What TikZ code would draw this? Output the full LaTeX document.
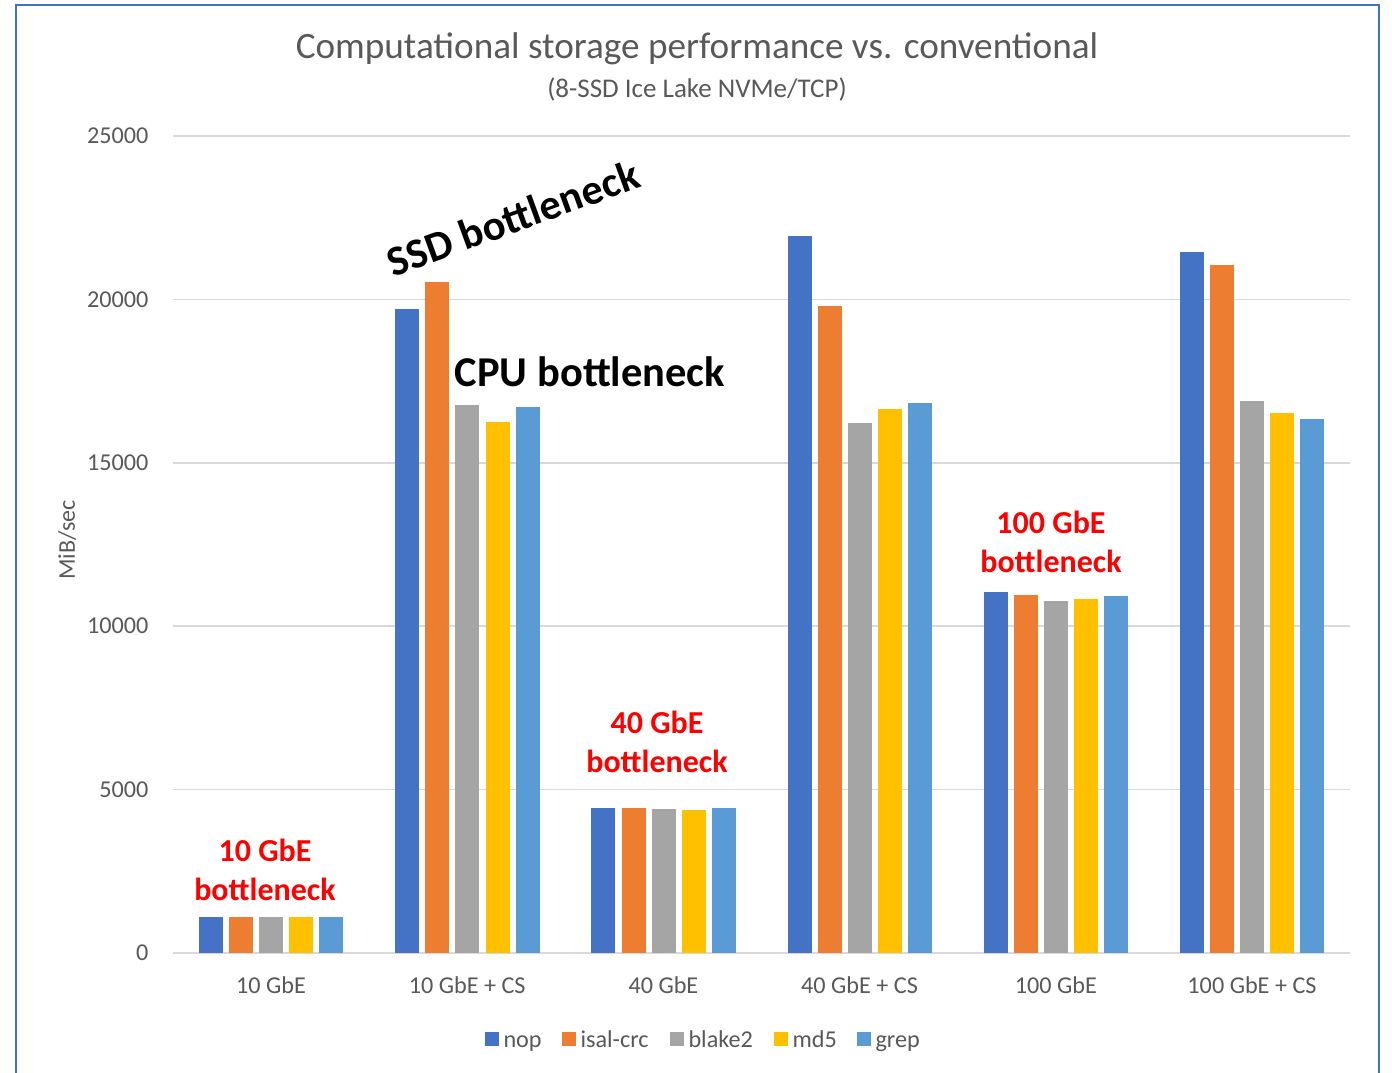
\documentclass[tikz,border=0pt]{standalone}
\usepackage{fontspec}
\setmainfont{Carlito}
\definecolor{cnop}{HTML}{4472C4}
\definecolor{cisal}{HTML}{ED7D31}
\definecolor{cblake}{HTML}{A5A5A5}
\definecolor{cmd}{HTML}{FFC000}
\definecolor{cgrep}{HTML}{5B9BD5}
\definecolor{grid}{HTML}{D9D9D9}
\definecolor{txt}{HTML}{595959}
\definecolor{frame}{HTML}{4472C4}
\begin{document}
\begin{tikzpicture}[x=1pt,y=-1pt,
  axis/.style={text=txt,font=\fontsize{24.2}{27}\selectfont},
  tick/.style={axis,anchor=east},
  cat/.style={axis,anchor=center},
  leg/.style={axis,anchor=base west},
  red/.style={text=red,font=\fontsize{32}{38.5}\selectfont\bfseries,align=center},
  big/.style={text=black,font=\fontsize{42.5}{48}\selectfont\bfseries},
  gridline/.style={draw=grid,line width=1.5pt}]
\useasboundingbox (0,0) rectangle (1392,1072);
\fill[white] (0,0) rectangle (1392,1072);
\draw[frame,line width=2.5pt] (16,1075) -- (16,5) -- (1379,5) -- (1379,1075);
% title
\node[text=txt,font=\fontsize{37.2}{42}\selectfont] (title) at (697,49) {Computational storage performance vs. conventional};
\node[text=txt,font=\fontsize{27}{30}\selectfont] (subtitle) at (697,89) {(8-SSD Ice Lake NVMe/TCP)};
% grid and ticks
\foreach \v [count=\i from 0] in {0,5000,10000,15000,20000,25000}{
  \draw[gridline] (173,{953-\i*163.4}) -- (1350,{953-\i*163.4});
  \node[tick] (t\i) at (152,{953-\i*163.4}) {\v};
}
\node[axis,rotate=90,font=\fontsize{24}{27}\selectfont] (ylab) at (67,540) {MiB/sec};
% bars (values in thousands of MiB/sec)
\foreach \g/\va/\vb/\vc/\vd/\ve in {0/1.10/1.10/1.10/1.10/1.10,
  1/19.71/20.54/16.77/16.25/16.71,
  2/4.44/4.44/4.41/4.38/4.43,
  3/21.94/19.80/16.22/16.65/16.83,
  4/11.05/10.96/10.77/10.84/10.93,
  5/21.46/21.05/16.89/16.52/16.35}{
  \fill[cnop]   ({199+\g*196.2},953) rectangle ++(24,{-\va*32.68});
  \fill[cisal]  ({229.1+\g*196.2},953) rectangle ++(24,{-\vb*32.68});
  \fill[cblake] ({259.2+\g*196.2},953) rectangle ++(24,{-\vc*32.68});
  \fill[cmd]    ({289.3+\g*196.2},953) rectangle ++(24,{-\vd*32.68});
  \fill[cgrep]  ({319.4+\g*196.2},953) rectangle ++(24,{-\ve*32.68});
}
% categories
\foreach \n [count=\i from 0] in {10 GbE,10 GbE + CS,40 GbE,40 GbE + CS,100 GbE,100 GbE + CS}{
  \node[cat] (c\i) at ({271+\i*196.2},985) {\n};
}
% legend
\fill[cnop]   (485,1032) rectangle (499,1046);
\node[leg] (lnop) at (500,1047) {nop};
\fill[cisal]  (562,1032) rectangle (576,1046);
\node[leg] (lisal) at (577,1047) {isal-crc};
\fill[cblake] (670,1032) rectangle (684,1046);
\node[leg] (lblake) at (685,1047) {blake2};
\fill[cmd]    (774,1032) rectangle (788,1046);
\node[leg] (lmd) at (789,1047) {md5};
\fill[cgrep]  (857,1032) rectangle (871,1046);
\node[leg] (lgrep) at (872,1047) {grep};
% annotations
\node[red] (b10) at (265,870) {10 GbE\\bottleneck};
\node[red] (b40) at (657,742) {40 GbE\\bottleneck};
\node[red] (b100) at (1051,542) {100 GbE\\bottleneck};
\node[big] (cpu) at (590,372) {CPU bottleneck};
\node[big,rotate=20] (ssd) at (513,218) {SSD bottleneck};
\end{tikzpicture}
\end{document}
